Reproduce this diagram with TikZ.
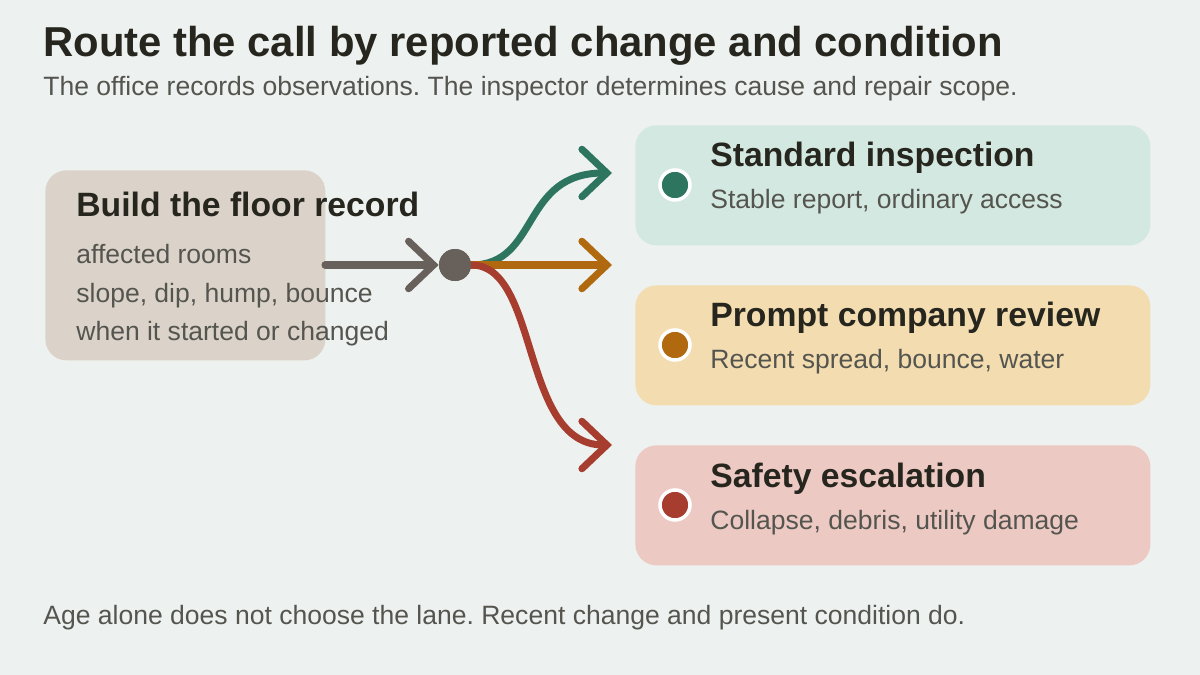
\documentclass[tikz,border=0pt]{standalone}
\usepackage{fontspec}
\setmainfont{Liberation Sans}
\usetikzlibrary{arrows.meta, positioning}
\definecolor{bg}{HTML}{EDF1EF}
\definecolor{ink}{HTML}{26261F}
\definecolor{soft}{HTML}{555550}
\definecolor{sand}{HTML}{DBD3C9}
\definecolor{hub}{HTML}{67605B}
\definecolor{green1}{HTML}{2E7560}
\definecolor{orange1}{HTML}{B0690F}
\definecolor{red1}{HTML}{A63D2E}
\definecolor{greenbg}{HTML}{D3E8E0}
\definecolor{orangebg}{HTML}{F3DDB0}
\definecolor{redbg}{HTML}{EDC9C3}
\frenchspacing

\begin{document}
\begin{tikzpicture}[x=0.02cm, y=-0.02cm,
    lane/.style = {rounded corners=12pt, minimum width=515*0.02cm, minimum height=120*0.02cm, anchor=north west},
    marker/.style = {circle, draw=white, line width=2pt, minimum size=0.6cm, inner sep=0pt},
    head/.style = {anchor=base west, inner sep=0pt, font=\fontsize{19.2}{22}\selectfont\bfseries, text=ink},
    note/.style = {anchor=base west, inner sep=0pt, font=\fontsize{15.1}{18}\selectfont, text=soft},
    flow/.style = {line width=4pt, line cap=round, -{Straight Barb[length=5mm, width=9.5mm, line cap=round]}}]
    \fill[bg] (0,0) rectangle (1200,675);

    \node[anchor=base west, inner sep=0pt, font=\fontsize{23.8}{27}\selectfont\bfseries, text=ink] (title) at (43,57) {Route the call by reported change and condition};
    \node[note] (sub) at (43,96) {The office records observations. The inspector determines cause and repair scope.};
    \node[note] (foot) at (43,624) {Age alone does not choose the lane. Recent change and present condition do.};

    % source record
    \node[fill=sand, rounded corners=12pt, minimum width=280*0.02cm, minimum height=190*0.02cm, anchor=north west] (rec) at (45,170) {};
    \node[head] (rech) at (76,217) {Build the floor record};
    \node[note] (rec1) at (76,264) {affected rooms};
    \node[note] (rec2) at (76,303) {slope, dip, hump, bounce};
    \node[note] (rec3) at (76,341) {when it started or changed};

    % lanes
    \node[lane, fill=greenbg]  (std)  at (635,125) {};
    \node[lane, fill=orangebg] (prm)  at (635,285) {};
    \node[lane, fill=redbg]    (saf)  at (635,445) {};
    \node[marker, fill=green1]  (d1) at (675,185) {};
    \node[marker, fill=orange1] (d2) at (675,345) {};
    \node[marker, fill=red1]    (d3) at (675,505) {};
    \node[head] (h1) at (710,167) {Standard inspection};
    \node[note] (n1) at (710,209) {Stable report, ordinary access};
    \node[head] (h2) at (710,327) {Prompt company review};
    \node[note] (n2) at (710,369) {Recent spread, bounce, water};
    \node[head] (h3) at (710,487) {Safety escalation};
    \node[note] (n3) at (710,529) {Collapse, debris, utility damage};

    % routing
    \coordinate (in)  at (325,265);
    \coordinate (to1) at (612,173);
    \coordinate (to2) at (612,265);
    \coordinate (to3) at (612,445);
    \node[circle, fill=hub, minimum size=0.64cm, inner sep=0pt] (split) at (455,265) {};
    \draw[flow, draw=hub] (in) -- (split.west);
    \draw[flow, draw=green1] (split.east) .. controls (540,265) and (520,173) .. (to1);
    \draw[flow, draw=orange1] (split.east) -- (to2);
    \draw[flow, draw=red1] (split.east) .. controls (540,265) and (520,445) .. (to3);
    \fill[hub] (split) circle (16);
\end{tikzpicture}
\end{document}
